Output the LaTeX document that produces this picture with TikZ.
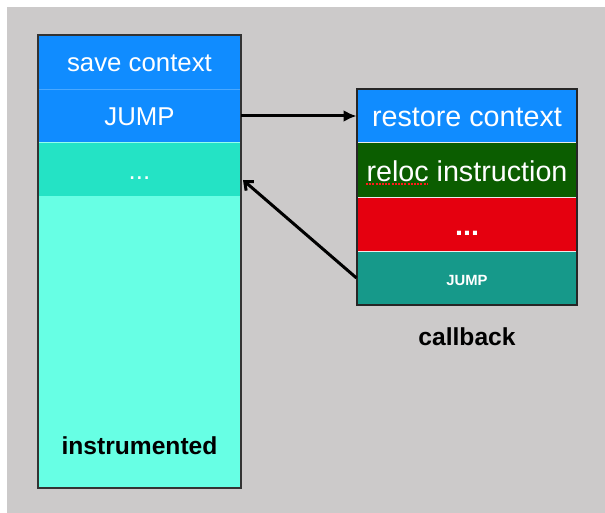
\documentclass[tikz,border=0pt]{standalone}
\usepackage{fontspec}
\setmainfont{Liberation Sans}
\usetikzlibrary{arrows.meta}
\definecolor{bggray}{HTML}{CCCACA}
\definecolor{ctxblue}{HTML}{108CFF}
\definecolor{lineblue}{HTML}{4AA8FF}
\definecolor{dotcyan}{HTML}{24E3C5}
\definecolor{bodycyan}{HTML}{67FFE4}
\definecolor{relocgreen}{HTML}{0B5D00}
\definecolor{dotred}{HTML}{E5000F}
\definecolor{jumpteal}{HTML}{16998A}
\definecolor{spellred}{HTML}{FF1A1A}
\begin{document}
\begin{tikzpicture}[x=1pt,y=-1pt,
    cell/.style={rectangle,inner sep=0pt,text=white,minimum height=#1,text depth=0pt},
    lcell/.style={cell=#1,minimum width=203pt,font=\fontsize{25.8}{30}\selectfont,text height=20pt},
    rcell/.style={cell=#1,minimum width=220pt,font=\fontsize{28.7}{33}\selectfont,text height=21.4pt,draw=white!85!gray,line width=1pt},
    tag/.style={font=\fontsize{24.6}{29}\selectfont\bfseries,text=black},
    link/.style={line width=3pt,black}]
    \useasboundingbox (0,0) rectangle (605,513);
    \fill[bggray] (7,7) rectangle (605,513);
    % instrumented code
    \node[lcell=54pt,fill=ctxblue,draw=lineblue] (save) at (139.5,62) {save context};
    \node[lcell=53pt,fill=ctxblue,draw=lineblue] (jmp) at (139.5,116) {JUMP};
    \node[lcell=54pt,fill=dotcyan,draw=bodycyan!70!white,text height=22pt] (dots) at (139.5,169) {...};
    \node[lcell=292pt,fill=bodycyan] (body) at (139.5,342) {};
    \node[tag] (instr) at (139.5,446) {instrumented};
    \draw[line width=1.5pt,black!80] (38,35) rectangle (241,488);
    % callback
    \node[rcell=54pt,fill=ctxblue] (restore) at (467,116) {restore context};
    \node[rcell=55pt,fill=relocgreen] (reloc) at (467,170.5) {reloc instruction};
    \node[rcell=53pt,fill=dotred] (rdots) at (467,224.5) {\textbf{...}};
    \node[rcell=54pt,fill=jumpteal,font=\fontsize{14.8}{18}\selectfont\bfseries,text height=14pt] (cbjump) at (467,278) {JUMP};
    \draw[line width=1.5pt,black!85] (357,89) rectangle (577,305);
    \draw[spellred,dash pattern=on 2pt off 1.2pt,line width=2pt] (366,184) -- (428,184);
    \node[tag] (cb) at (467,337) {callback};
    % jumps
    \coordinate (back) at (243,180);
    \draw[link,-{Latex[length=13pt,width=12pt]}] (jmp.east) -- (restore.west);
    \draw[link,-{Straight Barb[length=7pt,width=12pt]}] (cbjump.west) -- (back);
\end{tikzpicture}
\end{document}
